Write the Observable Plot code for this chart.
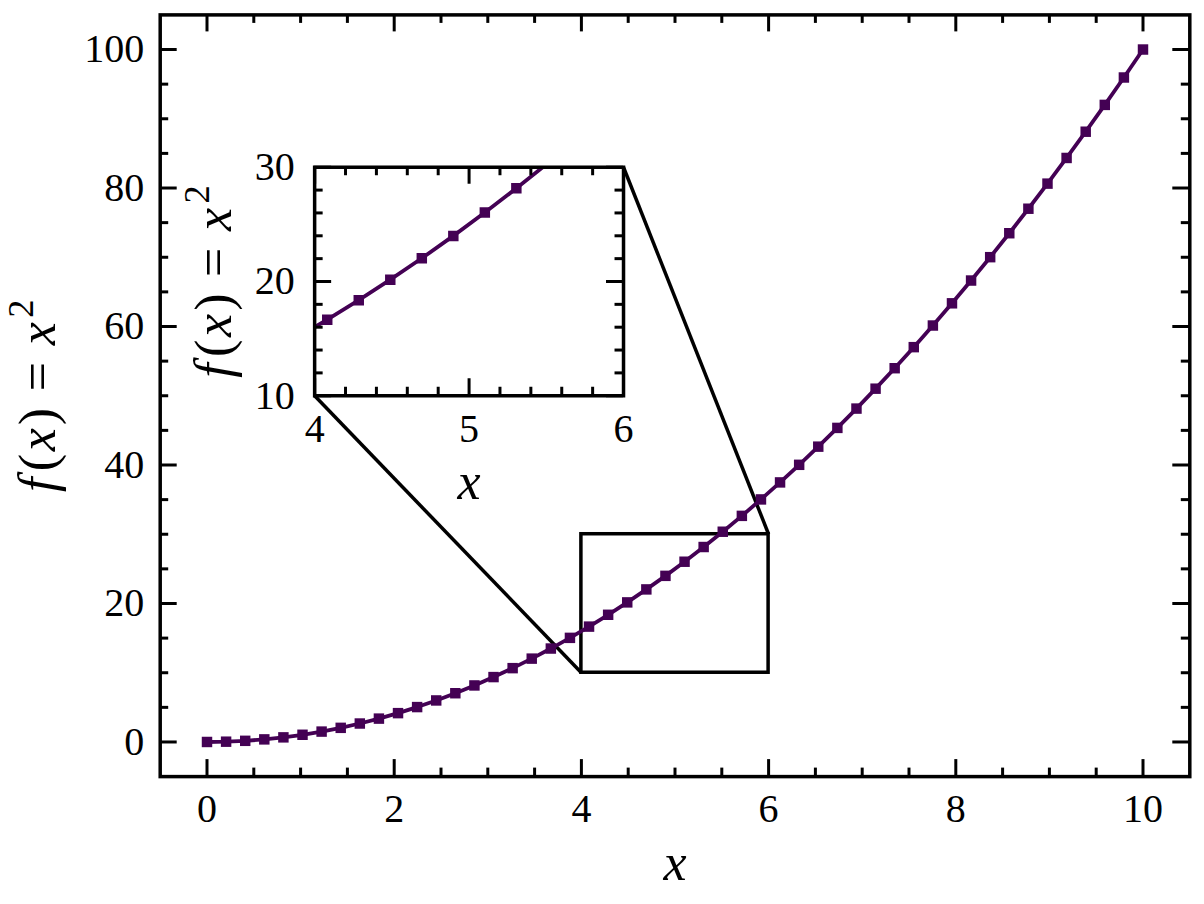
<!DOCTYPE html>
<html>
<head>
<meta charset="utf-8">
<script src="https://cdn.jsdelivr.net/npm/d3@7"></script>
<script src="https://cdn.jsdelivr.net/npm/@observablehq/plot@0.6"></script>
<style>
  html, body { margin: 0; padding: 0; background: white; }
  #wrap { position: relative; width: 1204px; height: 904px; }
  #wrap svg { position: absolute; left: 0; top: 0; }
</style>
</head>
<body>
<div id="wrap"></div>
<script>
// ---- data: f(x) = x^2 sampled at 50 points on [0, 10] ----
const xValues = [0, 0.2041, 0.4082, 0.6122, 0.8163, 1.0204, 1.2245, 1.4286, 1.6327, 1.8367,
  2.0408, 2.2449, 2.4490, 2.6531, 2.8571, 3.0612, 3.2653, 3.4694, 3.6735, 3.8776,
  4.0816, 4.2857, 4.4898, 4.6939, 4.8980, 5.1020, 5.3061, 5.5102, 5.7143, 5.9184,
  6.1224, 6.3265, 6.5306, 6.7347, 6.9388, 7.1429, 7.3469, 7.5510, 7.7551, 7.9592,
  8.1633, 8.3673, 8.5714, 8.7755, 8.9796, 9.1837, 9.3878, 9.5918, 9.7959, 10];
const yValues = [0, 0.0416, 0.1666, 0.3748, 0.6664, 1.0412, 1.4994, 2.0408, 2.6656, 3.3736,
  4.1649, 5.0396, 5.9975, 7.0387, 8.1633, 9.3711, 10.6622, 12.0367, 13.4944, 15.0354,
  16.6597, 18.3673, 20.1583, 22.0325, 23.9900, 26.0308, 28.1549, 30.3623, 32.6531, 35.0271,
  37.4844, 40.0250, 42.6489, 45.3561, 48.1466, 51.0204, 53.9775, 57.0179, 60.1416, 63.3486,
  66.6389, 70.0125, 73.4694, 77.0096, 80.6331, 84.3399, 88.1299, 92.0033, 95.9600, 100];

// axis limits and tick labels
const mainXDomain = [-0.5, 10.5];
const mainYDomain = [-5, 105];
const mainXTicks = [0, 2, 4, 6, 8, 10];
const mainYTicks = [0, 20, 40, 60, 80, 100];
const zoomX = [4, 6];     // inset window x
const zoomY = [10, 30];   // inset window y
const insetXTicks = [4, 5, 6];
const insetYTicks = [10, 20, 30];
const xLabel = "x";
const yLabel = "f(x) = x²";
// inset placement (fraction of main axes): [left, bottom, width, height]
const insetBounds = [0.15, 0.5, 0.3, 0.3];

const data = xValues.map((x, i) => ({x, y: yValues[i]}));

// ---- layout ----
const W = 1204, H = 904;
const M = {left: 159.7, right: 1189.3, top: 14.4, bottom: 776.1};
const mW = M.right - M.left, mH = M.bottom - M.top;
const I = {
  left: M.left + insetBounds[0] * mW,
  right: M.left + (insetBounds[0] + insetBounds[2]) * mW,
  bottom: M.bottom - insetBounds[1] * mH,
  top: M.bottom - (insetBounds[1] + insetBounds[3]) * mH
};
const iW = I.right - I.left, iH = I.bottom - I.top;

const COLOR = "#440154";
const FONT = "'Liberation Serif', 'DejaVu Serif', serif";
const LW = 3.5, TW = 3;
const MAJ = 17, MIN = 8.5;

function minorTicks(domain, step, majors) {
  const out = [];
  const n = Math.round((domain[1] - domain[0]) / step);
  for (let k = 0; k <= n; k++) {
    const v = +(domain[0] + k * step).toFixed(6);
    if (v > domain[0] + 1e-9 && v < domain[1] - 1e-9 && !majors.some(m => Math.abs(m - v) < 1e-9)) out.push(v);
  }
  return out;
}

function tickMarks(xMaj, xMin, yMaj, yMin, fw, fh) {
  const s = {stroke: "black", strokeWidth: TW};
  const marks = [];
  for (const [arr, len] of [[xMaj, MAJ], [xMin, MIN]]) {
    marks.push(Plot.ruleX(arr, {...s, insetTop: fh - len}));
    marks.push(Plot.ruleX(arr, {...s, insetBottom: fh - len}));
  }
  for (const [arr, len] of [[yMaj, MAJ], [yMin, MIN]]) {
    marks.push(Plot.ruleY(arr, {...s, insetRight: fw - len}));
    marks.push(Plot.ruleY(arr, {...s, insetLeft: fw - len}));
  }
  return marks;
}

function labelMarks(xt, yt, yLabelDx, yTickDx) {
  return [
    Plot.text(xt, {x: d => d, text: d => String(d), frameAnchor: "bottom", dy: 33, lineAnchor: "middle", textAnchor: "middle", fontSize: 40, fill: "black"}),
    Plot.text(yt, {y: d => d, text: d => String(d), frameAnchor: "left", dx: yTickDx, lineAnchor: "middle", textAnchor: "end", fontSize: 40, fill: "black"}),
    Plot.text([xLabel], {text: d => d, frameAnchor: "bottom", dy: 87, lineAnchor: "middle", textAnchor: "middle", fontSize: 52, fill: "black"}),
    Plot.text([yLabel], {text: d => d, frameAnchor: "left", dx: yLabelDx, rotate: -90, lineAnchor: "middle", textAnchor: "middle", fontSize: 52, fill: "black"})
  ];
}

// connector endpoints: inset corners expressed in main data coords
const fx = f => mainXDomain[0] + f * (mainXDomain[1] - mainXDomain[0]);
const fy = f => mainYDomain[0] + f * (mainYDomain[1] - mainYDomain[0]);
const connectors = [
  {x1: fx(insetBounds[0]), y1: fy(insetBounds[1]), x2: zoomX[0], y2: zoomY[0]},
  {x1: fx(insetBounds[0] + insetBounds[2]), y1: fy(insetBounds[1] + insetBounds[3]), x2: zoomX[1], y2: zoomY[1]}
];

const mainPlot = Plot.plot({
  width: W, height: H,
  marginLeft: M.left, marginRight: W - M.right, marginTop: M.top, marginBottom: H - M.bottom,
  x: {domain: mainXDomain, axis: null},
  y: {domain: mainYDomain, axis: null},
  style: {fontFamily: FONT, fontSize: "40px", background: "white", overflow: "visible"},
  marks: [
    Plot.rect([{x1: zoomX[0], x2: zoomX[1], y1: zoomY[0], y2: zoomY[1]}], {x1: "x1", x2: "x2", y1: "y1", y2: "y2", fill: "none", stroke: "black", strokeWidth: LW}),
    Plot.link(connectors, {x1: "x1", y1: "y1", x2: "x2", y2: "y2", stroke: "black", strokeWidth: LW}),
    Plot.line(data, {x: "x", y: "y", stroke: COLOR, strokeWidth: 3.8}),
    Plot.dot(data, {x: "x", y: "y", symbol: "square", r: 5.9, fill: COLOR}),
    ...tickMarks(mainXTicks, minorTicks(mainXDomain, 0.5, mainXTicks), mainYTicks, minorTicks(mainYDomain, 5, mainYTicks), mW, mH),
    Plot.frame({stroke: "black", strokeWidth: LW}),
    ...labelMarks(mainXTicks, mainYTicks, -122, -16)
  ]
});

const insetPlot = Plot.plot({
  width: W, height: H,
  marginLeft: I.left, marginRight: W - I.right, marginTop: I.top, marginBottom: H - I.bottom,
  x: {domain: zoomX, axis: null},
  y: {domain: zoomY, axis: null},
  style: {fontFamily: FONT, fontSize: "40px", background: "transparent", overflow: "visible"},
  marks: [
    Plot.frame({fill: "white", stroke: "none"}),
    Plot.line(data, {x: "x", y: "y", stroke: COLOR, strokeWidth: 3.8, clip: true}),
    Plot.dot(data, {x: "x", y: "y", symbol: "square", r: 5.9, fill: COLOR, clip: true}),
    ...tickMarks(insetXTicks, minorTicks(zoomX, 0.2, insetXTicks), insetYTicks, minorTicks(zoomY, 2, insetYTicks), iW, iH),
    Plot.frame({stroke: "black", strokeWidth: LW}),
    ...labelMarks(insetXTicks, insetYTicks, -100, -20)
  ]
});

function mathify(svg) {
  d3.select(svg).selectAll("text").each(function () {
    const t = this.textContent;
    if (t === xLabel) {
      this.setAttribute("font-style", "italic");
    } else if (t === yLabel) {
      // [text, style, dx before]
      const parts = [["f", "italic", 0], ["(", "normal", 0.12], ["x", "italic", 0.05], [")", "normal", 0.06],
                     ["=", "normal", 0.32], ["x", "italic", 0.32]];
      this.textContent = "";
      for (const [s, st, dx] of parts) {
        const ts = d3.select(this).append("tspan").attr("font-style", st).text(s);
        if (dx) ts.attr("dx", dx + "em");
      }
      d3.select(this).append("tspan").attr("font-style", "normal").attr("font-size", "70%")
        .attr("dx", "0.12em").attr("dy", "-0.6em").text("2");
    }
  });
}
mathify(mainPlot);
mathify(insetPlot);

const wrap = document.getElementById("wrap");
wrap.appendChild(mainPlot);
wrap.appendChild(insetPlot);
</script>
</body>
</html>
